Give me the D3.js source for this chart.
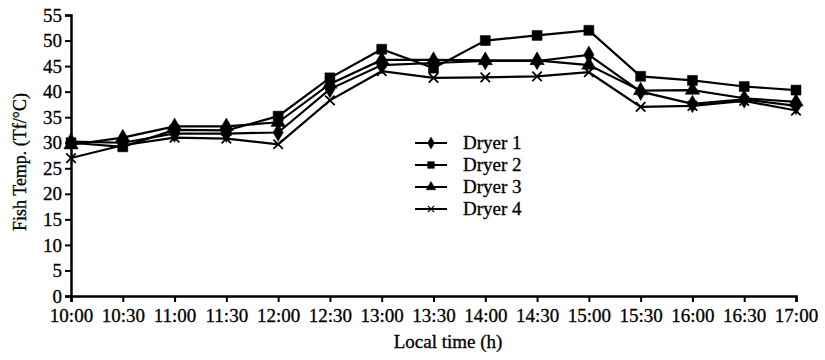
<!DOCTYPE html>
<html lang="en">
	<head>
		<meta charset="utf-8">
		<title>Fish Temp - Dryers</title>
		<script src="https://d3js.org/d3.v7.min.js"></script>
		<style type="text/css">
			body {
				margin: 0;
				background: #ffffff;
			}
			text {
				font-family: 'Liberation Serif', 'Times New Roman', serif;
				fill: #000;
				stroke: #000;
				stroke-width: 0.3px;
			}
		</style>
	</head>
	<body>
		<script type="text/javascript">

			//Width and height
			var w = 825;
			var h = 360;
			var margin = {top: 15, right: 29, bottom: 64, left: 71};

			//data
			var times = ["10:00", "10:30", "11:00", "11:30", "12:00", "12:30", "13:00", "13:30",
				"14:00", "14:30", "15:00", "15:30", "16:00", "16:30", "17:00"];
			var dryer1 = [30.2, 30.0, 31.8, 31.8, 32.0, 40.5, 45.2, 45.6, 46.0, 46.0, 47.2, 40.0, 37.6, 38.5, 37.2];
			var dryer2 = [30.0, 29.2, 32.5, 32.4, 35.2, 42.7, 48.3, 44.6, 50.0, 51.0, 52.0, 43.0, 42.2, 41.0, 40.3];
			var dryer3 = [29.6, 31.0, 33.2, 33.2, 34.0, 41.5, 46.2, 46.2, 46.1, 46.1, 45.2, 40.2, 40.3, 38.7, 38.0];
			var dryer4 = [27.0, 29.5, 31.0, 30.8, 29.7, 38.3, 44.0, 42.7, 42.8, 43.0, 43.8, 37.0, 37.2, 38.2, 36.3];
			var seriesNames = ["Dryer 1", "Dryer 2", "Dryer 3", "Dryer 4"];
			var yTicks = [0, 5, 10, 15, 20, 25, 30, 35, 40, 45, 50, 55];

			var series = [dryer1, dryer2, dryer3, dryer4];
			var symbols = [d3.symbolDiamond, d3.symbolSquare, d3.symbolTriangle, d3.symbolX];
			var symbolSize = [90, 100, 90, 60];

			var xScale = d3.scalePoint()
							.domain(times)
							.range([margin.left, w - margin.right]);

			var yScale = d3.scaleLinear()
							.domain([0, 55])
							.range([h - margin.bottom, margin.top]);

			//Create SVG element
			var svg = d3.select("body")
						.append("svg")
						.attr("width", w)
						.attr("height", h);

			//Lines
			var line = d3.line()
						.x(function(d, i) { return xScale(times[i]); })
						.y(function(d) { return yScale(d); });

			series.forEach(function(s, k) {
				svg.append("path")
					.datum(s)
					.attr("d", line)
					.attr("fill", "none")
					.attr("stroke", "#000")
					.attr("stroke-width", 2.2);
			});

			//Markers
			series.forEach(function(s, k) {
				var sym = d3.symbol().type(symbols[k]).size(symbolSize[k]);
				svg.selectAll(".m" + k)
					.data(s)
					.enter()
					.append("path")
					.attr("class", "m" + k)
					.attr("d", sym)
					.attr("transform", function(d, i) {
						return "translate(" + xScale(times[i]) + "," + yScale(d) + ")";
					})
					.attr("fill", "#000")
					.attr("stroke", "#000")
					.attr("stroke-width", k == 3 ? 1.8 : 0.5);
			});

			//Axes
			var xAxis = d3.axisBottom(xScale).tickSize(6).tickPadding(7);
			var yAxis = d3.axisLeft(yScale).tickValues(yTicks).tickSize(6).tickPadding(3);

			var gx = svg.append("g")
				.attr("transform", "translate(0," + (h - margin.bottom) + ")")
				.call(xAxis);
			var gy = svg.append("g")
				.attr("transform", "translate(" + margin.left + ",0)")
				.call(yAxis);

			[gx, gy].forEach(function(g) {
				g.select(".domain").attr("stroke", "#000").attr("stroke-width", 2.5);
				g.selectAll(".tick line").attr("stroke", "#000").attr("stroke-width", 2);
				g.selectAll(".tick text")
					.style("font-family", "'Liberation Serif', serif")
					.style("font-size", "19px")
					.attr("fill", "#000")
					.attr("stroke", "#000")
					.attr("stroke-width", 0.4);
			});

			//Axis titles
			svg.append("text")
				.attr("x", 448)
				.attr("y", 348)
				.attr("text-anchor", "middle")
				.style("font-size", "19px")
				.text("Local time (h)");

			svg.append("text")
				.attr("transform", "translate(26,162) rotate(-90)")
				.attr("text-anchor", "middle")
				.style("font-size", "18px")
				.text("Fish Temp. (Tf/°C)");

			//Legend
			var legend = svg.append("g");
			seriesNames.forEach(function(name, k) {
				var ly = 143 + k * 22;
				legend.append("line")
					.attr("x1", 415).attr("x2", 447)
					.attr("y1", ly).attr("y2", ly)
					.attr("stroke", "#000")
					.attr("stroke-width", 2);
				legend.append("path")
					.attr("d", d3.symbol().type(symbols[k]).size(symbolSize[k] * 0.45))
					.attr("transform", "translate(431," + ly + ")")
					.attr("fill", "#000")
					.attr("stroke", "#000")
					.attr("stroke-width", k == 3 ? 1.2 : 0.5);
				legend.append("text")
					.attr("x", 463)
					.attr("y", ly + 6)
					.style("font-size", "19px")
					.text(name);
			});
		</script>
	</body>
</html>
